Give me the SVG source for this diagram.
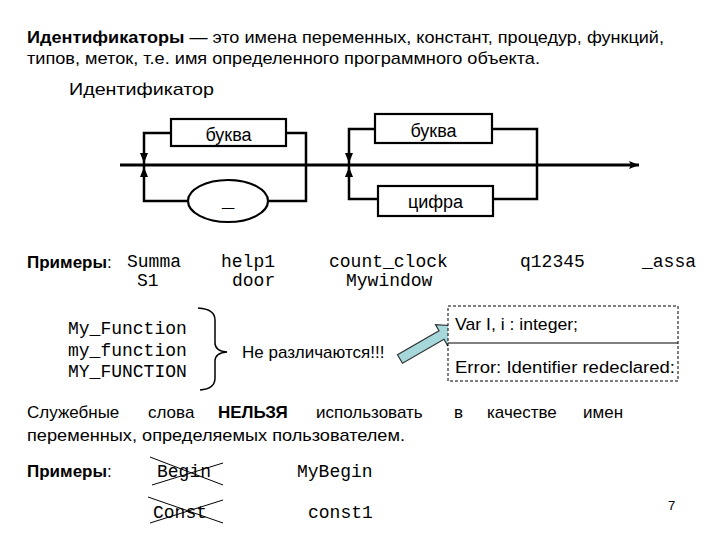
<svg xmlns="http://www.w3.org/2000/svg" width="720" height="540" viewBox="0 0 720 540">
<style>
.t{font-family:"Liberation Sans",Arial,sans-serif;fill:#000}
.m{font-family:"Liberation Mono","Courier New",monospace;font-size:18px;fill:#000}
.b{font-weight:bold}
.box{fill:#fff;stroke:#000;stroke-width:2.2}
.ln{fill:none;stroke:#000;stroke-width:2.5}
.main{fill:none;stroke:#000;stroke-width:3}
.x{stroke:#000;stroke-width:1}
</style>
<defs>
<marker id="ah" viewBox="0 0 10 10" refX="10" refY="5" markerWidth="10" markerHeight="10" markerUnits="userSpaceOnUse" orient="auto">
<path d="M0,1 L10,5 L0,9 Z" fill="#000"/>
</marker>
<marker id="endA" viewBox="0 0 10 10" refX="10" refY="5" markerWidth="12" markerHeight="10" markerUnits="userSpaceOnUse" orient="auto">
<path d="M0,1 L10,5 L0,9 L2,5 Z" fill="#000"/>
</marker>
</defs>
<rect width="720" height="540" fill="#fff"/>

<g id="intro">
<text class="t" x="27" y="43" font-size="17" textLength="637" lengthAdjust="spacingAndGlyphs"><tspan class="b">Идентификаторы</tspan> — это имена переменных, констант, процедур, функций,</text>
<text class="t" x="27" y="64" font-size="17" textLength="513" lengthAdjust="spacingAndGlyphs">типов, меток, т.е. имя определенного программного объекта.</text>
<text class="t" x="69" y="95" font-size="17" textLength="145" lengthAdjust="spacingAndGlyphs">Идентификатор</text>
</g>

<g id="connectors">
<line class="main" x1="120" y1="165" x2="639" y2="165" marker-end="url(#endA)"/>
<path class="ln" d="M171,133 H144 V201 H188"/>
<path class="ln" d="M286,133 H306 V201 H268"/>
<path class="ln" d="M375,129 H349 V199 H378"/>
<path class="ln" d="M492,129 H537 V199 H493"/>
<line x1="144" y1="150" x2="144" y2="163" stroke="#000" stroke-width="1" marker-end="url(#ah)"/>
<line x1="144" y1="180" x2="144" y2="167" stroke="#000" stroke-width="1" marker-end="url(#ah)"/>
<line x1="349" y1="150" x2="349" y2="163" stroke="#000" stroke-width="1" marker-end="url(#ah)"/>
<line x1="349" y1="180" x2="349" y2="167" stroke="#000" stroke-width="1" marker-end="url(#ah)"/>
</g>

<g id="node-letter1">
<rect class="box" x="171" y="119" width="115" height="27"/>
<text class="t" x="228.5" y="141" font-size="18" text-anchor="middle">буква</text>
</g>
<g id="node-underscore">
<ellipse class="box" cx="228" cy="201" rx="40" ry="21"/>
<text class="t b" x="228" y="206" font-size="22" text-anchor="middle">_</text>
</g>
<g id="node-letter2">
<rect class="box" x="375" y="114" width="117" height="29"/>
<text class="t" x="433.5" y="137" font-size="18" text-anchor="middle">буква</text>
</g>
<g id="node-digit">
<rect class="box" x="378" y="186" width="115" height="30"/>
<text class="t" x="435.5" y="208" font-size="18" text-anchor="middle">цифра</text>
</g>

<g id="examples">
<text class="t" x="27" y="268" font-size="17"><tspan class="b">Примеры</tspan>:</text>
<text class="m" x="127" y="267">Summa</text>
<text class="m" x="137" y="286">S1</text>
<text class="m" x="221" y="267">help1</text>
<text class="m" x="232" y="286">door</text>
<text class="m" x="329" y="267">count_clock</text>
<text class="m" x="346" y="286">Mywindow</text>
<text class="m" x="520" y="267">q12345</text>
<text class="m" x="642" y="267">_assa</text>
</g>

<g id="case-group">
<text class="m" x="68" y="334">My_Function</text>
<text class="m" x="68" y="356">my_function</text>
<text class="m" x="68" y="377">MY_FUNCTION</text>
<path d="M198,308 Q215,309 215,320 L215,343 Q215,351 227,352 Q215,353 215,361 L215,378 Q215,389 200,390" fill="none" stroke="#000" stroke-width="1.5"/>
<text class="t" x="242" y="358" font-size="17">Не различаются!!!</text>
</g>

<g id="block-arrow">
<polygon points="402.5,363.3 397.5,354.7 439,330.7 435.5,324.6 457,326 447.5,345.4 444,339.3" fill="#a6d8db" stroke="#333" stroke-width="1.2"/>
</g>

<g id="error-box">
<rect x="448" y="306" width="230" height="75" fill="#fff" stroke="#000" stroke-width="1" stroke-dasharray="3,2"/>
<line x1="448" y1="343" x2="678" y2="343" stroke="#000" stroke-width="1"/>
<text class="t" x="455" y="330" font-size="17" textLength="123" lengthAdjust="spacingAndGlyphs">Var I, i : integer;</text>
<text class="t" x="455" y="373" font-size="16" textLength="220" lengthAdjust="spacingAndGlyphs">Error: Identifier redeclared:</text>
</g>

<g id="reserved">
<text class="t" y="418" font-size="17"><tspan x="27">Служебные</tspan><tspan x="148">слова</tspan><tspan x="218" class="b">НЕЛЬЗЯ</tspan><tspan x="316">использовать</tspan><tspan x="454">в</tspan><tspan x="487">качестве</tspan><tspan x="583">имен</tspan></text>
<text class="t" x="27" y="441" font-size="17" textLength="378" lengthAdjust="spacingAndGlyphs">переменных, определяемых пользователем.</text>
</g>

<g id="examples2">
<text class="t" x="27" y="477" font-size="17"><tspan class="b">Примеры</tspan>:</text>
<text class="m" x="157" y="477">Begin</text>
<line class="x" x1="150" y1="457" x2="223" y2="485"/>
<line class="x" x1="152" y1="485" x2="223" y2="463"/>
<text class="m" x="297" y="477">MyBegin</text>
<text class="m" x="153" y="518">Const</text>
<line class="x" x1="148" y1="497" x2="223" y2="523"/>
<line class="x" x1="150" y1="523" x2="223" y2="500"/>
<text class="m" x="308" y="518">const1</text>
</g>

<text class="t" x="668" y="510" font-size="13">7</text>
</svg>
